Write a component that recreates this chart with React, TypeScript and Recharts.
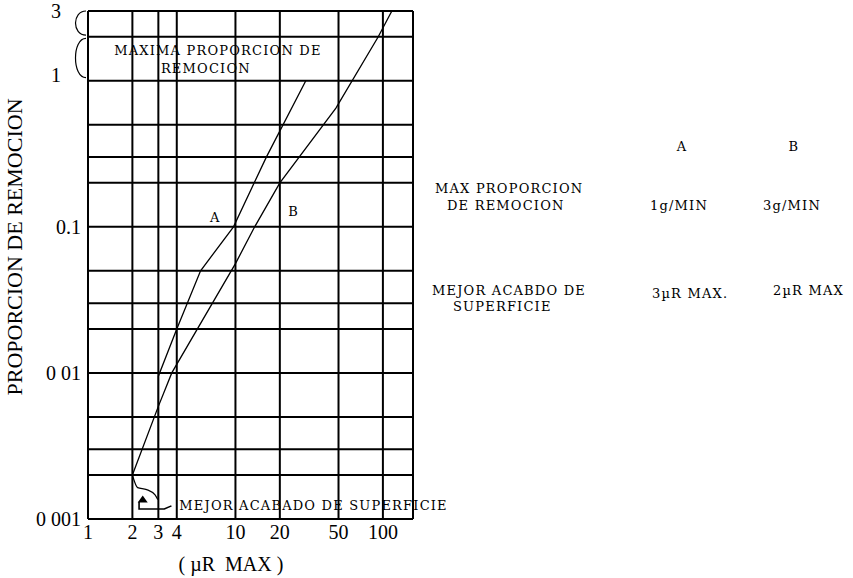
import React from "react";
import {
  LineChart,
  Line,
  XAxis,
  YAxis,
  CartesianGrid,
  ReferenceDot,
  ReferenceArea,
  Customized,
} from "recharts";

const serif = "'Liberation Serif', 'Times New Roman', serif";
const noteFont = "'DejaVu Serif', 'Liberation Serif', serif";

// axis grid (uneven, log-like)
const xTicks = [1, 2, 3, 4, 10, 20, 50, 100];
const yTicks = [0.001, 0.002, 0.003, 0.005, 0.01, 0.02, 0.03, 0.05, 0.1, 0.2, 0.3, 0.5, 1, 2, 3];
const yTickLabels: Record<string, string> = {
  "0.001": "0 001",
  "0.01": "0 01",
  "0.1": "0.1",
  "1": "1",
  "3": "3",
};

// curve A: 1 g/min, 3 uR max
const lineA = [
  { x: 3, y: 0.00135 },
  { x: 3, y: 0.0095 },
  { x: 4, y: 0.02 },
  { x: 5.8, y: 0.05 },
  { x: 9.7, y: 0.1 },
  { x: 16.2, y: 0.3 },
  { x: 30, y: 1 },
];

// curve B: 3 g/min, 2 uR max
const lineB = [
  { x: 2, y: 0.002 },
  { x: 3, y: 0.0059 },
  { x: 3.7, y: 0.01 },
  { x: 10, y: 0.056 },
  { x: 13.5, y: 0.1 },
  { x: 20, y: 0.2 },
  { x: 48, y: 0.65 },
  { x: 93, y: 2 },
  { x: 115, y: 3 },
];

// little bracket joining the bottoms of A and B
const bracket = [
  { x: 2, y: 0.002 },
  { x: 2.17, y: 0.00164 },
  { x: 2.5, y: 0.00159 },
  { x: 2.85, y: 0.00146 },
  { x: 2.97, y: 0.00136 },
];

// hook of the arrow pointing at the bracket
const hook = [
  { x: 2.22, y: 0.00131 },
  { x: 2.22, y: 0.00117 },
  { x: 3.29, y: 0.00117 },
  { x: 3.68, y: 0.00123 },
];

const YTick = ({ x, y, payload }: any) => {
  const label = yTickLabels[String(payload.value)];
  if (!label) return null;
  const big = payload.value >= 1;
  return (
    <text
      x={big ? x - 19 : x + 1}
      y={payload.value === 1 ? y - 6 : y}
      textAnchor="end"
      dominantBaseline="central"
      fontSize={20}
      fontFamily={serif}
      fill="#000"
    >
      {label}
    </text>
  );
};

const XTick = ({ x, y, payload }: any) => (
  <text x={x} y={y + 5} textAnchor="middle" dominantBaseline="central" fontSize={20} fontFamily={serif} fill="#000">
    {payload.value}
  </text>
);

const Note = ({ cx, cy, text, anchor = "middle" }: any) => (
  <text
    x={cx}
    y={cy}
    textAnchor={anchor}
    dominantBaseline="central"
    fontSize={13}
    letterSpacing={1.2}
    fontFamily={noteFont}
    fill="#000"
  >
    {text}
  </text>
);

const Arrowhead = ({ cx, cy }: any) => (
  <path d={`M${cx - 5},${cy + 4} L${cx + 5},${cy + 4} L${cx},${cy - 3} Z`} fill="#000" />
);

const Brace = ({ x, y, height }: any) => {
  const xr = x - 2;
  const xl = x - 16;
  return (
    <path d={`M${xr},${y} C${xl},${y} ${xl},${y + height} ${xr},${y + height}`} fill="none" stroke="#000" strokeWidth={1.2} />
  );
};

const FreeText = () => (
  <g fill="#000">
    <text
      transform="translate(14,247) rotate(-90)"
      textAnchor="middle"
      dominantBaseline="central"
      fontSize={22}
      fontFamily={serif}
    >
      PROPORCION DE REMOCION
    </text>
    <text
      x={231}
      y={564}
      textAnchor="middle"
      dominantBaseline="central"
      fontSize={20}
      fontFamily={serif}
      style={{ whiteSpace: "pre" }}
    >
      ( µR  MAX )
    </text>
    <g fontSize={13} letterSpacing={1.2} fontFamily={noteFont} dominantBaseline="central" style={{ whiteSpace: "pre" }}>
      <text x={682} y={146} textAnchor="middle">A</text>
      <text x={794} y={146} textAnchor="middle">B</text>
      <text x={435} y={188}>MAX  PROPORCION</text>
      <text x={447} y={205}>DE REMOCION</text>
      <text x={650} y={205}>1g/MIN</text>
      <text x={763} y={205}>3g/MIN</text>
      <text x={432} y={290}>MEJOR ACABDO DE</text>
      <text x={453} y={306}>SUPERFICIE</text>
      <text x={652} y={293}>3µR MAX.</text>
      <text x={773} y={290}>2µR MAX</text>
    </g>
  </g>
);

export default function App() {
  return (
    <div style={{ position: "absolute", left: 0, top: 0, background: "#fff" }}>
      <LineChart width={853} height={578} margin={{ top: 11, right: 440, bottom: 0, left: 0 }}>
        <CartesianGrid stroke="#000" strokeWidth={2} />
        <XAxis
          dataKey="x"
          type="number"
          scale="log"
          domain={[1, 160]}
          ticks={xTicks}
          allowDataOverflow
          axisLine={false}
          tickLine={false}
          height={59}
          tick={<XTick />}
        />
        <YAxis
          type="number"
          scale="log"
          domain={[0.001, 3]}
          ticks={yTicks}
          allowDataOverflow
          axisLine={false}
          tickLine={false}
          width={88}
          tick={<YTick />}
        />
        <ReferenceArea y1={2.05} y2={3} fill="none" stroke="none" shape={<Brace />} ifOverflow="visible" />
        <ReferenceArea y1={1.05} y2={1.95} fill="none" stroke="none" shape={<Brace />} ifOverflow="visible" />
        <Line data={lineA} dataKey="y" type="linear" stroke="#000" strokeWidth={1.3} dot={false} isAnimationActive={false} />
        <Line data={lineB} dataKey="y" type="linear" stroke="#000" strokeWidth={1.3} dot={false} isAnimationActive={false} />
        <Line data={bracket} dataKey="y" type="monotone" stroke="#000" strokeWidth={1.2} dot={false} isAnimationActive={false} />
        <Line data={hook} dataKey="y" type="linear" stroke="#000" strokeWidth={1.6} dot={false} isAnimationActive={false} />
        <ReferenceDot x={2.35} y={0.00138} r={0} shape={<Arrowhead />} />
        <ReferenceDot x={7.6} y={1.6} r={0} shape={<Note text="MAXIMA PROPORCION DE" />} />
        <ReferenceDot x={6.3} y={1.22} r={0} shape={<Note text="REMOCION" />} />
        <ReferenceDot x={7.3} y={0.115} r={0} shape={<Note text="A" />} />
        <ReferenceDot x={24.8} y={0.128} r={0} shape={<Note text="B" />} />
        <ReferenceDot x={4.16} y={0.00124} r={0} shape={<Note text="MEJOR ACABADO DE SUPERFICIE" anchor="start" />} />
        <Customized component={FreeText} />
      </LineChart>
    </div>
  );
}
